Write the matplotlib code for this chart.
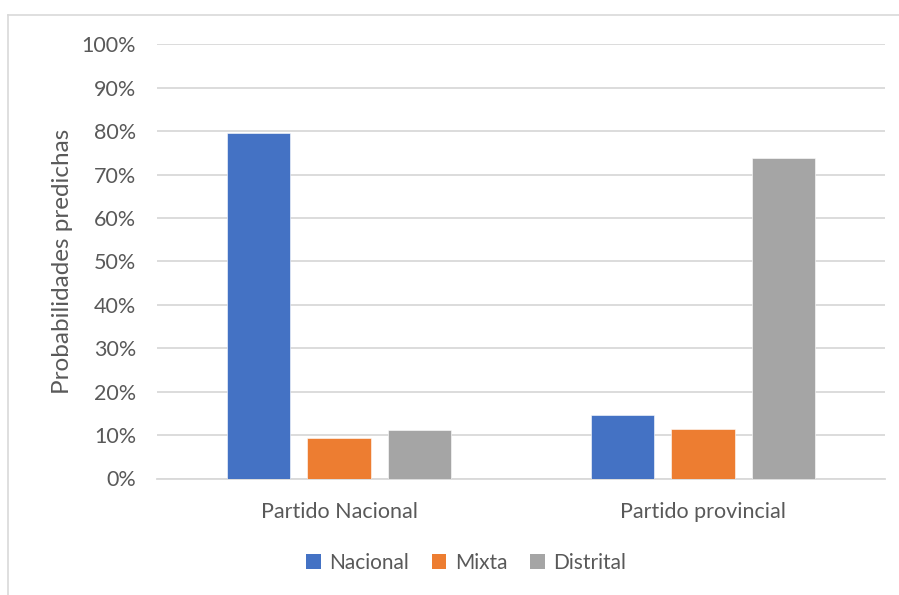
import matplotlib
matplotlib.use("Agg")
import matplotlib.pyplot as plt
from matplotlib.lines import Line2D
from matplotlib.patches import Patch
from matplotlib.ticker import FuncFormatter, MultipleLocator

categories = ["Partido Nacional", "Partido provincial"]
series_names = ["Nacional", "Mixta", "Distrital"]
nacional = [0.796, 0.147]
mixta = [0.093, 0.115]
distrital = [0.111, 0.738]
colors = ["#4472C4", "#ED7D31", "#A5A5A5"]

text_color = "#595959"
grid_color = "#D9D9D9"
plt.rcParams["font.family"] = ["Lato", "DejaVu Sans"]

W, H = 899, 595
fig = plt.figure(figsize=(W / 100, H / 100), dpi=100)
ax = fig.add_axes([157 / W, 1 - 478.5 / H, (885 - 157) / W, (478.5 - 44.3) / H])

bar_w = 0.174
step = 0.221
x = list(range(len(categories)))
for i, (vals, col) in enumerate(zip([nacional, mixta, distrital], colors)):
    offs = (i - 1) * step
    ax.bar([xi + offs for xi in x], vals, width=bar_w, color=col,
           edgecolor="white", linewidth=0.4, zorder=3)

ax.set_xlim(-0.5, 1.5)
ax.set_ylim(0, 1)
ax.yaxis.set_major_locator(MultipleLocator(0.1))
ax.yaxis.set_major_formatter(FuncFormatter(lambda v, p: f"{v * 100:.0f}%"))
ax.grid(axis="y", color=grid_color, linewidth=1.3, zorder=0)
ax.set_axisbelow(True)
for s in ["top", "right", "left"]:
    ax.spines[s].set_visible(False)
ax.spines["bottom"].set_color(grid_color)
ax.spines["bottom"].set_linewidth(1.3)
ax.set_xticks(x)
ax.set_xticklabels(categories)
ax.tick_params(axis="both", length=0, labelsize=15.5, labelcolor=text_color)
ax.tick_params(axis="y", pad=15)
ax.tick_params(axis="x", pad=17)
ax.set_ylabel("Probabilidades predichas", fontsize=17.5, color=text_color, labelpad=6)

handles = [Patch(facecolor=c, edgecolor="none") for c in colors]
fig.legend(handles, series_names, loc="center", bbox_to_anchor=(466 / W, 1 - 563 / H),
           ncol=3, frameon=False, fontsize=15, labelcolor=text_color,
           handlelength=0.7, handleheight=0.7, handletextpad=0.4, columnspacing=1.1)

# chart frame
fig.add_artist(Line2D([8 / W, 8 / W], [0, 1 - 15 / H], transform=fig.transFigure,
                      color=grid_color, linewidth=1.2))
fig.add_artist(Line2D([8 / W, 1], [1 - 15 / H, 1 - 15 / H], transform=fig.transFigure,
                      color=grid_color, linewidth=1.2))

fig.savefig("out.png", dpi=100, facecolor="white")
